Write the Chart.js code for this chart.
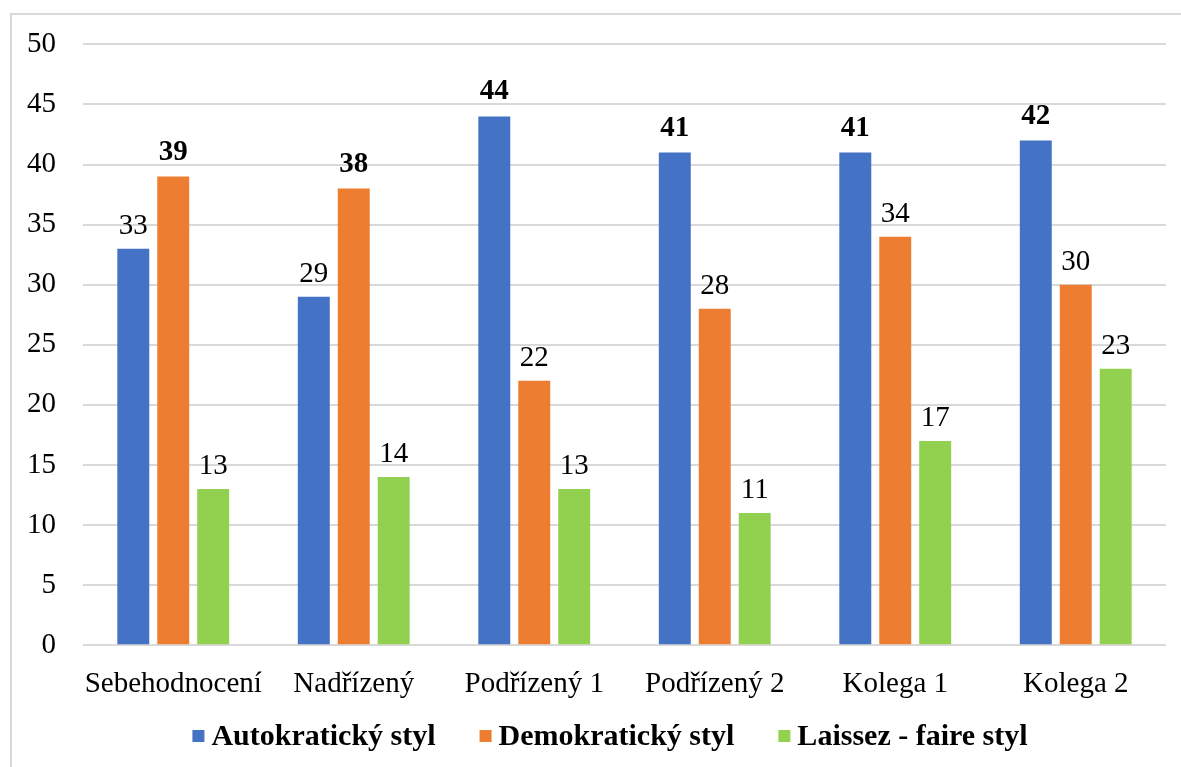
<!DOCTYPE html>
<html>
<head>
<meta charset="utf-8">
<script src="https://cdn.jsdelivr.net/npm/chart.js@4/dist/chart.umd.min.js"></script>
<style>
html,body{margin:0;padding:0;background:#fff;}
#wrap{position:absolute;left:0;top:0;width:1181px;height:767px;}
#frame{position:absolute;left:10px;top:13px;width:1180px;height:770px;border:2px solid #d9d9d9;box-sizing:border-box;}
canvas{position:absolute;left:0;top:0;}
</style>
</head>
<body>
<div id="wrap"><div id="frame"></div><canvas id="c" width="1181" height="767"></canvas></div>
<script>
const categories = ["Sebehodnocení","Nadřízený","Podřízený 1","Podřízený 2","Kolega 1","Kolega 2"];
const autokraticky = [33,29,44,41,41,42];
const demokraticky = [39,38,22,28,34,30];
const laissez = [13,14,13,11,17,23];
const seriesNames = ["Autokratický styl","Demokratický styl","Laissez - faire styl"];
const colors = ["#4472c4","#ed7d31","#92d050"];
const yTicks = [0,5,10,15,20,25,30,35,40,45,50];

const FONT = "'Liberation Serif','Times New Roman',serif";
const FS = 29;

const labelPlugin = {
  id:'valueLabels',
  afterDatasetsDraw(chart){
    const ctx = chart.ctx;
    const ds = chart.data.datasets;
    ctx.save();
    ctx.textAlign='center';
    ctx.textBaseline='alphabetic';
    ctx.fillStyle='#000';
    ds.forEach((d,di)=>{
      const meta = chart.getDatasetMeta(di);
      meta.data.forEach((bar,i)=>{
        const v = d.data[i];
        const maxV = Math.max(...ds.map(x=>x.data[i]));
        const bold = v===maxV;
        ctx.font = (bold?'bold ':'') + FS + 'px ' + FONT;
        ctx.fillText(String(v), bar.x, bar.y - (bold?17:15));
      });
    });
    ctx.restore();
  }
};

const legendPlugin = {
  id:'customLegend',
  afterDraw(chart){
    const ctx = chart.ctx;
    const ds = chart.data.datasets;
    const box = 12, gapBT = 7, gapItem = 44, y = 736;
    ctx.save();
    ctx.font = 'bold 30px ' + FONT;
    ctx.textBaseline = 'middle';
    ctx.textAlign = 'left';
    const widths = ds.map(d=>ctx.measureText(d.label).width);
    const total = widths.reduce((a,w)=>a+box+gapBT+w,0) + gapItem*(ds.length-1);
    let x = 610 - total/2;
    ds.forEach((d,i)=>{
      ctx.fillStyle = d.backgroundColor;
      ctx.fillRect(x, y-6, box, box);
      x += box + gapBT;
      ctx.fillStyle = '#000';
      ctx.fillText(d.label, x, y+1);
      x += widths[i] + gapItem;
    });
    ctx.restore();
  }
};

new Chart(document.getElementById('c'),{
  type:'bar',
  data:{
    labels:categories,
    datasets:[
      {label:seriesNames[0],data:autokraticky,backgroundColor:colors[0]},
      {label:seriesNames[1],data:demokraticky,backgroundColor:colors[1]},
      {label:seriesNames[2],data:laissez,backgroundColor:colors[2]}
    ]
  },
  options:{
    responsive:false,
    animation:false,
    devicePixelRatio:1,
    categoryPercentage:0.664,
    barPercentage:0.8,
    layout:{padding:{left:0,right:15,top:43,bottom:51}},
    plugins:{
      legend:{display:false},
      tooltip:{enabled:false}
    },
    scales:{
      x:{
        grid:{display:false},
        border:{display:false},
        ticks:{font:{family:FONT,size:FS},color:'#000',padding:14,maxRotation:0,minRotation:0,autoSkip:false}
      },
      y:{
        min:0,max:50,
        afterBuildTicks(axis){axis.ticks = yTicks.map(v=>({value:v}));},
        grid:{color:'#d9d9d9',lineWidth:2,drawTicks:false},
        border:{display:false},
        ticks:{font:{family:FONT,size:FS},color:'#000',padding:27}
      }
    }
  },
  plugins:[labelPlugin, legendPlugin]
});
</script>
</body>
</html>
